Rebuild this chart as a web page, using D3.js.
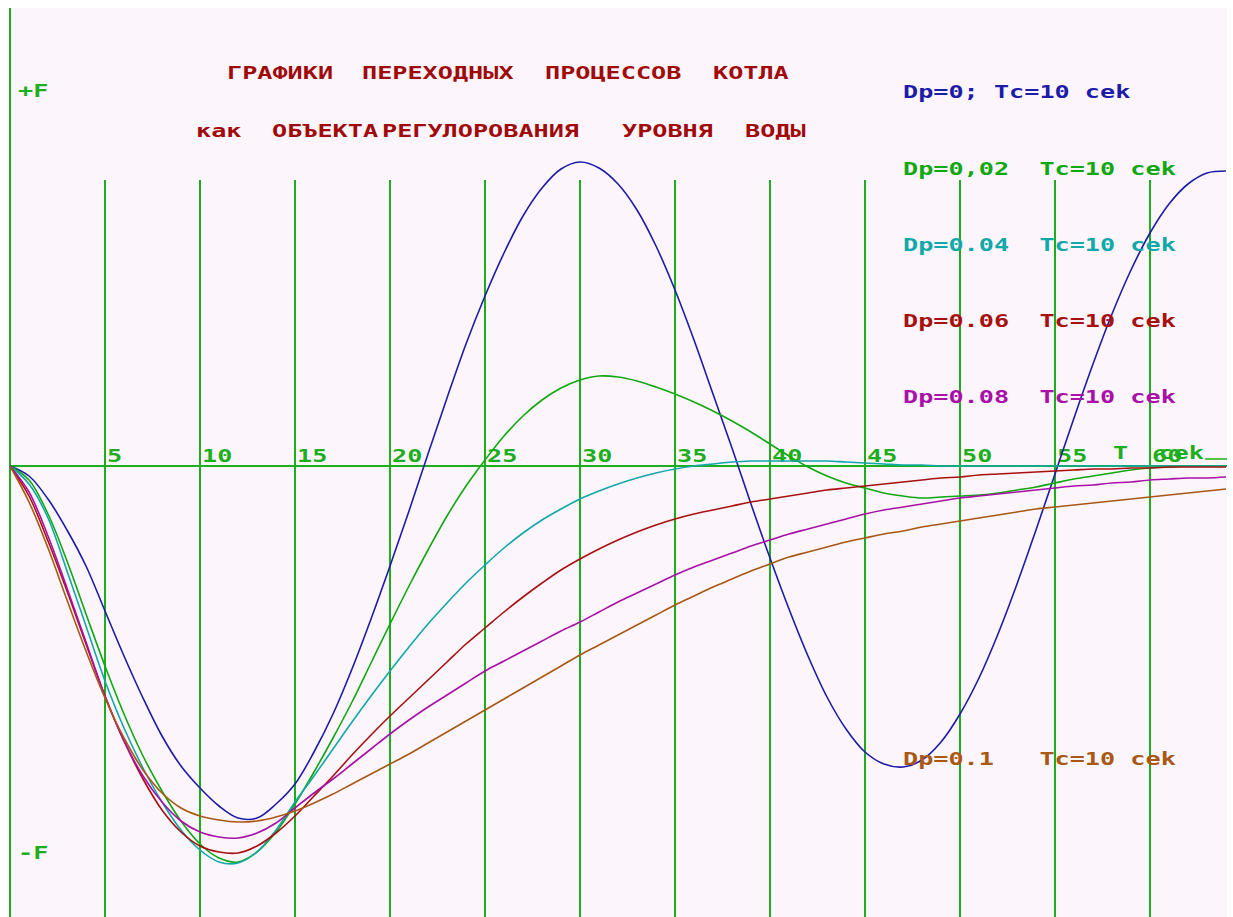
<!DOCTYPE html>
<html lang="ru">
<head>
<meta charset="UTF-8">
<title>Графики переходных процессов котла</title>
<script src="https://cdn.jsdelivr.net/npm/d3@7/dist/d3.min.js"></script>
<style>
  body { margin: 0; background: #fff; }
  text { font-family: "DejaVu Sans Mono", "Liberation Mono", monospace; font-weight: bold; white-space: pre; }
</style>
</head>
<body>
<svg width="1233" height="917"></svg>
<script>
// time, seconds
var times = d3.range(0, 65);
var xTicks = [5, 10, 15, 20, 25, 30, 35, 40, 45, 50, 55, 60];

// level deviation (F = 380 units), one value per second
var dp0   = [0,-10,-33,-64,-100,-145,-190,-232,-270,-300, -322,-340,-352,-352,-338,-318,-286,-248,-203,-153,
             -100,-45,12,68,122,170,213,250,278,297, 304,298,282,256,220,176,126,72,18,-38,
             -92,-143,-190,-231,-263,-286,-298,-301,-294,-276, -248,-212,-168,-118,-64,-8,48,102,152,196,
             233,262,282,293,295];
var dp002 = [0,-14,-48,-95,-148,-200,-248,-290,-325,-355, -378,-392,-396,-386,-366,-338,-306,-272,-236,-197,
             -158,-120,-84,-50,-20,6,30,50,66,78, 86,90,89,85,79,72,64,55,45,34,
             22,10,-1,-10,-17,-22,-27,-30,-32,-31, -30,-29,-27,-24,-21,-17,-13,-10,-7,-4,
             -2,-1,0,0,0];
var dp004 = [0,-18,-52,-105,-160,-215,-262,-302,-336,-364, -384,-396,-397,-386,-364,-336,-310,-283,-256,-230,
             -205,-181,-158,-137,-117,-99,-82,-67,-54,-43, -33,-25,-18,-12,-7,-3,0,2,4,5,
             5,5,5,5,4,3,2,1,1,0, 0,0,0,0,0,0,0,0,0,0,
             0,0,0,0,0];
var dp006 = [0,-30,-75,-125,-178,-230,-275,-313,-344,-366, -380,-386,-387,-380,-367,-350,-330,-310,-289,-269,
             -250,-232,-214,-196,-178,-162,-146,-131,-117,-104, -93,-83,-74,-66,-59,-53,-48,-44,-40,-36,
             -33,-30,-27,-24,-22,-20,-18,-16,-14,-12, -11,-9,-8,-7,-6,-5,-4,-3,-3,-2,
             -2,-1,-1,-1,-1];
var dp008 = [0,-26,-70,-122,-176,-230,-275,-310,-336,-355, -366,-371,-372,-367,-357,-342,-327,-313,-298,-283,
             -268,-254,-241,-229,-217,-205,-195,-185,-175,-165, -156,-146,-136,-127,-118,-109,-101,-94,-87,-80,
             -74,-68,-63,-58,-53,-48,-44,-41,-38,-35, -32,-30,-28,-26,-24,-22,-20,-19,-17,-16,
             -14,-13,-12,-12,-11];
var dp01  = [0,-36,-82,-134,-185,-232,-272,-304,-327,-342, -350,-354,-356,-355,-351,-345,-337,-328,-318,-308,
             -298,-288,-277,-266,-255,-244,-233,-222,-211,-200, -189,-179,-169,-159,-149,-139,-130,-121,-113,-105,
             -98,-91,-86,-81,-76,-72,-68,-65,-61,-58, -55,-52,-49,-46,-43,-41,-39,-37,-35,-33,
             -31,-29,-27,-25,-23];

var seriesNames  = ["Dp=0; Tc=10 cek", "Dp=0,02  Tc=10 cek", "Dp=0.04  Tc=10 cek",
                    "Dp=0.06  Tc=10 cek", "Dp=0.08  Tc=10 cek", "Dp=0.1   Tc=10 cek"];
var seriesValues = [dp0, dp002, dp004, dp006, dp008, dp01];
var seriesColors = ["#1c1ca8", "#10a810", "#10a8a8", "#a81010", "#a810a8", "#a85814"];
var legendY      = [91, 168, 244, 320, 396, 758];

var titleWords1 = ["ГРАФИКИ", "ПЕРЕХОДНЫХ", "ПРОЦЕССОВ", "КОТЛА"];
var titleX1     = [227, 362, 545, 713];
var titleWords2 = ["как", "ОБЪЕКТА", "РЕГУЛОРОВАНИЯ", "УРОВНЯ", "ВОДЫ"];
var titleX2     = [196, 272, 382, 622, 745];

var svg = d3.select("svg");
var grid = "#1cae1c";
var wide = 1.4; // the old screen font is wider than it is tall

var x = d3.scaleLinear().domain([0, 64]).range([10, 1226]);
var y = d3.scaleLinear().domain([-380, 380]).range([846, 86]);

function label(g, tx, ty, str, color) {
  return g.append("text")
    .attr("transform", "translate(" + tx + "," + ty + ") scale(" + wide + ",1)")
    .attr("font-size", 18).attr("fill", color).text(str);
}

// background panel
svg.append("rect").attr("x", 9).attr("y", 8).attr("width", 1218).attr("height", 909).attr("fill", "#fdf5fc");

svg.append("clipPath").attr("id", "clip")
  .append("rect").attr("x", 9).attr("y", 8).attr("width", 1218).attr("height", 909);

// vertical grid lines
svg.append("g").selectAll("line").data(xTicks).enter().append("line")
  .attr("x1", d => x(d)).attr("x2", d => x(d))
  .attr("y1", 180).attr("y2", 917)
  .attr("stroke", grid).attr("stroke-width", 2);

// axes
svg.append("line").attr("x1", 10).attr("x2", 10).attr("y1", 8).attr("y2", 917)
  .attr("stroke", grid).attr("stroke-width", 2);
svg.append("line").attr("x1", x(0)).attr("x2", 1227).attr("y1", y(0)).attr("y2", y(0))
  .attr("stroke", grid).attr("stroke-width", 2);
svg.append("line").attr("x1", x(62.9)).attr("x2", 1227).attr("y1", y(0) - 7).attr("y2", y(0) - 7)
  .attr("stroke", grid).attr("stroke-width", 1.5);

// tick labels
var gt = svg.append("g");
xTicks.forEach(function (d) { label(gt, x(d) + 2, y(0) - 4, String(d), grid); });
label(gt, 1113, y(0) - 7, "T  cek", grid);
label(gt, 18, 97, "+F", grid);
label(gt, 18, 859, "-F", grid);

// title
var gh = svg.append("g");
titleWords1.forEach(function (w, i) { label(gh, titleX1[i], 79, w, "#a00a0a"); });
titleWords2.forEach(function (w, i) { label(gh, titleX2[i], 137, w, "#a00a0a"); });

// curves
var line = d3.line()
  .x((d, i) => x(times[i]))
  .y(d => y(d))
  .curve(d3.curveCatmullRom);

svg.append("g").attr("clip-path", "url(#clip)")
  .selectAll("path").data(seriesValues).enter().append("path")
  .attr("d", d => line(d))
  .attr("fill", "none")
  .attr("stroke", (d, i) => seriesColors[i])
  .attr("stroke-width", 1.6);

// legend
var gl = svg.append("g");
seriesNames.forEach(function (s, i) { label(gl, 903, legendY[i] + 7, s, seriesColors[i]); });
</script>
</body>
</html>
